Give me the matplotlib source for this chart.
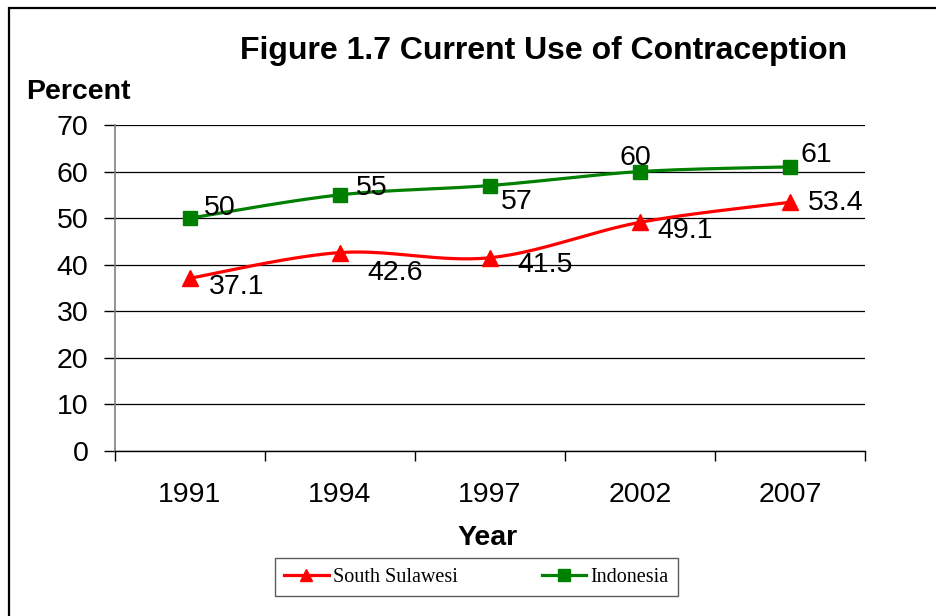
import numpy as np
import matplotlib.pyplot as plt
from matplotlib.patches import Rectangle

# --- data ---
years = ["1991", "1994", "1997", "2002", "2007"]
south_sulawesi = [37.1, 42.6, 41.5, 49.1, 53.4]
indonesia = [50, 55, 57, 60, 61]

# label offsets (pixels) for each point label
ss_offsets = [(19, -9), (27, -20), (27, -7), (17, -9), (18, -1)]
ind_offsets = [(14, 10), (16, 7), (11, -16), (-20, 14), (11, 12)]

plt.rcParams['font.family'] = ['Liberation Sans', 'DejaVu Sans']
FS = 20.5


def smooth(xs, ys, n=40):
    """Catmull-Rom style bezier smoothing, like spreadsheet 'smoothed line'."""
    pts = np.column_stack([xs, ys]).astype(float)
    padded = np.vstack([pts[0], pts, pts[-1]])
    out = []
    for i in range(len(pts) - 1):
        p0, p1, p2, p3 = padded[i], padded[i + 1], padded[i + 2], padded[i + 3]
        c1 = p1 + (p2 - p0) / 6.0
        c2 = p2 - (p3 - p1) / 6.0
        t = np.linspace(0, 1, n)[:, None]
        seg = ((1 - t) ** 3) * p1 + 3 * ((1 - t) ** 2) * t * c1 + 3 * (1 - t) * t ** 2 * c2 + t ** 3 * p2
        out.append(seg if i == 0 else seg[1:])
    seg = np.vstack(out)
    return seg[:, 0], seg[:, 1]


fig = plt.figure(figsize=(9.37, 6.16), dpi=100)
ax = fig.add_axes([0.1227, 0.2679, 0.8004, 0.5292])

x = np.arange(len(years))
RED = '#FF0000'
GREEN = '#008000'

sx, sy = smooth(x, south_sulawesi)
ax.plot(sx, sy, color=RED, lw=2.3, zorder=3)
ax.plot(x, south_sulawesi, ls='none', marker='^', ms=11, color=RED, zorder=4)

ix, iy = smooth(x, indonesia)
ax.plot(ix, iy, color=GREEN, lw=2.3, zorder=3)
ax.plot(x, indonesia, ls='none', marker='s', ms=10, color=GREEN, zorder=4)

# legend proxies
h1, = ax.plot([], [], color=RED, lw=2.3, marker='^', ms=9, label='South Sulawesi')
h2, = ax.plot([], [], color=GREEN, lw=2.3, marker='s', ms=9, label='Indonesia')

for xi, v, off in zip(x, south_sulawesi, ss_offsets):
    ax.annotate(f"{v:g}", (xi, v), xytext=off, textcoords='offset pixels',
                ha='left', va='center', fontsize=FS, zorder=5)
for xi, v, off in zip(x, indonesia, ind_offsets):
    ax.annotate(f"{v:g}", (xi, v), xytext=off, textcoords='offset pixels',
                ha='left', va='center', fontsize=FS, zorder=5)

ax.set_xlim(-0.5, len(years) - 0.5)
ax.set_ylim(0, 70)
ax.set_yticks(range(0, 71, 10))
ax.yaxis.grid(True, color='black', lw=0.9)
ax.set_axisbelow(True)

ax.set_xticks(x, years)
ax.set_xticks(np.arange(-0.5, len(years)), minor=True)
ax.tick_params(axis='x', which='major', length=0, pad=22, labelsize=FS)
ax.tick_params(axis='x', which='minor', length=7, width=1, direction='out', color='black')
ax.tick_params(axis='y', length=8, width=1, color='black', pad=11, labelsize=FS)

for s in ['top', 'right']:
    ax.spines[s].set_visible(False)
ax.spines['left'].set_color('#808080')
ax.spines['left'].set_linewidth(1.2)
ax.spines['bottom'].set_color('black')
ax.spines['bottom'].set_linewidth(1)

fig.text(0.5806, 0.917, "Figure 1.7 Current Use of Contraception", ha='center', va='center',
         fontsize=23, fontweight='bold')
fig.text(26 / 937, 0.851, "Percent", ha='left', va='center', fontsize=FS, fontweight='bold')
fig.text(0.52, 0.127, "Year", ha='center', va='center', fontsize=FS, fontweight='bold')

leg = fig.legend(handles=[h1, h2], loc='center', bbox_to_anchor=(0.5085, 0.0633), ncol=2,
                 prop={'family': 'Liberation Serif', 'size': 14.5}, frameon=True, fancybox=False,
                 handlelength=2.2, handletextpad=0.2, columnspacing=4.2, borderpad=0.45)
leg.get_frame().set_edgecolor('#333333')
leg.get_frame().set_linewidth(1)

# outer frame (left and top edges visible)
fig.patches.append(Rectangle((9 / 937, -0.1), 2.0, 1.1 - 8 / 616, transform=fig.transFigure,
                             fill=False, edgecolor='black', lw=1.6))

fig.savefig("out.png", dpi=100)
